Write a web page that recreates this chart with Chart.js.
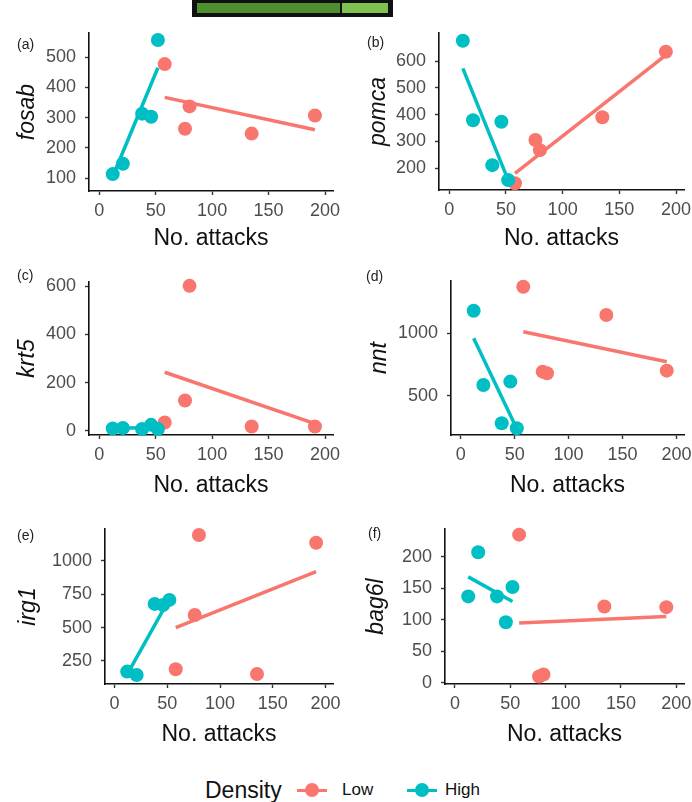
<!DOCTYPE html>
<html>
<head>
<meta charset="utf-8">
<title>Gene expression vs. attacks</title>
<script src="https://cdn.jsdelivr.net/npm/chart.js@4.4.0/dist/chart.umd.min.js"></script>
<style>
  body { margin: 0; background: #fff; width: 692px; height: 802px; position: relative; overflow: hidden;
         font-family: "Liberation Sans", Arial, sans-serif; }
  canvas { position: absolute; }
  .tag { position: absolute; font-size: 14px; line-height: 14px; color: #222; }
  .bar { position: absolute; left: 192px; top: 0; width: 201px; height: 17px; background: #111; }
  .bar div { position: absolute; top: 3px; height: 10px; }
  .legend { position: absolute; top: 776px; left: 205px; height: 28px; }
  .legend span { position: absolute; white-space: nowrap; }
  .key-line { position: absolute; width: 30px; height: 3px; top: 13px; }
  .key-dot { position: absolute; width: 14px; height: 14px; border-radius: 50%; top: 7px; }
</style>
</head>
<body>
<div class="bar"><div style="left:5px;width:143px;background:#4e8f2e"></div><div style="left:150px;width:46px;background:#7fc24f"></div></div>

<canvas id="pa" width="346" height="240" style="left:0;top:20px"></canvas>
<canvas id="pb" width="346" height="240" style="left:346px;top:20px"></canvas>
<canvas id="pc" width="346" height="250" style="left:0;top:255px"></canvas>
<canvas id="pd" width="346" height="250" style="left:346px;top:255px"></canvas>
<canvas id="pe" width="346" height="250" style="left:0;top:505px"></canvas>
<canvas id="pf" width="346" height="250" style="left:346px;top:505px"></canvas>

<div class="tag" style="left:17px;top:37px">(a)</div>
<div class="tag" style="left:367px;top:35px">(b)</div>
<div class="tag" style="left:17px;top:268px">(c)</div>
<div class="tag" style="left:366px;top:269px">(d)</div>
<div class="tag" style="left:17px;top:528px">(e)</div>
<div class="tag" style="left:368px;top:526px">(f)</div>

<div class="legend">
  <span style="left:0;top:0;font-size:23px;line-height:28px;color:#111">Density</span>
  <div class="key-line" style="left:92px;background:#F8766D"></div>
  <div class="key-dot" style="left:100px;background:#F8766D"></div>
  <span style="left:137px;top:4px;font-size:17px;line-height:20px;color:#111">Low</span>
  <div class="key-line" style="left:202px;background:#00BFC4"></div>
  <div class="key-dot" style="left:210px;background:#00BFC4"></div>
  <span style="left:240px;top:4px;font-size:17px;line-height:20px;color:#111">High</span>
</div>

<script>
// shared x values (number of attacks) and ticks
const xTicks = [0, 50, 100, 150, 200];
const attacksLow = [58, 76, 80, 135, 191];
const attacksHigh = [12, 21, 38, 46, 52];
const fitXLow = [58, 191];
const fitXHigh = [12, 52];

// (a) fosab
const fosabLow = [477, 263, 337, 247, 307];
const fosabHigh = [113, 147, 313, 303, 557];
const fosabFitLow = [367, 260];
const fosabFitHigh = [105, 465];
const fosabTicks = [100, 200, 300, 400, 500];

// (b) pomca
const pomcaLow = [143, 305, 267, 390, 635];
const pomcaHigh = [676, 379, 211, 373, 155];
const pomcaFitLow = [180, 622];
const pomcaFitHigh = [573, 155];
const pomcaTicks = [200, 300, 400, 500, 600];

// (c) krt5
const krt5Low = [35, 126, 601, 18, 18];
const krt5High = [10, 12, 8, 25, 8];
const krt5FitLow = [243, 30];
const krt5FitHigh = [10, 15];
const krt5Ticks = [0, 200, 400, 600];

// (d) nnt
const nntLow = [1367, 693, 680, 1143, 701];
const nntHigh = [1177, 587, 283, 614, 244];
const nntFitLow = [1010, 772];
const nntFitHigh = [958, 240];
const nntTicks = [500, 1000];

// (e) irg1
const irg1Low = [188, 595, 1195, 152, 1137];
const irg1High = [170, 145, 678, 670, 708];
const irg1FitLow = [500, 920];
const irg1FitHigh = [150, 715];
const irg1Ticks = [250, 500, 750, 1000];

// (f) bag6l
const bag6lLow = [235, 10, 13, 121, 120];
const bag6lHigh = [137, 207, 137, 96, 152];
const bag6lFitLow = [95, 105];
const bag6lFitHigh = [168, 129];
const bag6lTicks = [0, 50, 100, 150, 200];

const RED = "#F8766D";
const TEAL = "#00BFC4";
const FONT = "'Liberation Sans', Arial, sans-serif";

function pts(xs, ys) {
  return xs.map((x, i) => ({ x, y: ys[i] }));
}

function makePanel(id, gene, low, high, fitLow, fitHigh, ticks, yMin, yMax, box) {
  const ctx = document.getElementById(id);
  new Chart(ctx, {
    type: "scatter",
    data: {
      datasets: [
        { data: pts(fitXHigh, fitHigh), showLine: true, borderColor: TEAL, borderWidth: 3.5,
          pointRadius: 0, order: 0, clip: false },
        { data: pts(fitXLow, fitLow), showLine: true, borderColor: RED, borderWidth: 3.5,
          pointRadius: 0, order: 0, clip: false },
        { data: pts(attacksHigh, high), backgroundColor: TEAL, borderWidth: 0,
          pointRadius: 7, order: 1, clip: false },
        { data: pts(attacksLow, low), backgroundColor: RED, borderWidth: 0,
          pointRadius: 7, order: 2, clip: false },
      ],
    },
    options: {
      responsive: false,
      animation: false,
      devicePixelRatio: 1,
      layout: { padding: { left: 0, top: box.top, right: box.right, bottom: 0 } },
      plugins: { legend: { display: false }, tooltip: { enabled: false } },
      scales: {
        x: {
          type: "linear",
          min: -9,
          max: 207,
          afterBuildTicks: (s) => { s.ticks = xTicks.map((v) => ({ value: v })); },
          afterFit: (s) => { s.height = box.xh; s.paddingLeft = 0; s.paddingRight = 0; },
          border: { display: true, color: "#111", width: 1.6 },
          grid: { drawOnChartArea: false, drawTicks: true, tickLength: 4, tickColor: "#333", tickWidth: 1.4 },
          ticks: { color: "#4D4D4D", font: { family: FONT, size: 18 }, padding: 5,
                   callback: (v) => String(v) },
          title: { display: true, text: "No. attacks", color: "#111",
                   font: { family: FONT, size: 23, lineHeight: 1 }, padding: { top: 0, bottom: box.tb } },
        },
        y: {
          type: "linear",
          min: yMin,
          max: yMax,
          afterBuildTicks: (s) => { s.ticks = ticks.map((v) => ({ value: v })); },
          afterFit: (s) => { s.width = box.yw; s.paddingTop = 0; s.paddingBottom = 0; },
          border: { display: true, color: "#111", width: 1.6 },
          grid: { drawOnChartArea: false, drawTicks: true, tickLength: 4, tickColor: "#333", tickWidth: 1.4 },
          ticks: { color: "#4D4D4D", font: { family: FONT, size: 18 }, padding: 9,
                   callback: (v) => String(v) },
          title: { display: true, text: gene, color: "#111",
                   font: { family: FONT, size: 23, style: "italic", lineHeight: 1 },
                   padding: { top: box.tl, bottom: 0 } },
        },
      },
    },
  });
}

makePanel("pa", "fosab", fosabLow, fosabHigh, fosabFitLow, fosabFitHigh, fosabTicks, 57, 580,
  { top: 13, right: 13, yw: 89, xh: 69, tb: 9.5, tl: 16.5 });
makePanel("pb", "pomca", pomcaLow, pomcaHigh, pomcaFitLow, pomcaFitHigh, pomcaTicks, 118, 705,
  { top: 13, right: 8, yw: 93, xh: 70, tb: 9.5, tl: 21 });
makePanel("pc", "krt5", krt5Low, krt5High, krt5FitLow, krt5FitHigh, krt5Ticks, -17, 617,
  { top: 27, right: 13, yw: 89, xh: 70, tb: 8, tl: 16.5 });
makePanel("pd", "nnt", nntLow, nntHigh, nntFitLow, nntFitHigh, nntTicks, 190, 1413,
  { top: 26, right: 8, yw: 105, xh: 70, tb: 8, tl: 22 });
makePanel("pe", "irg1", irg1Low, irg1High, irg1FitLow, irg1FitHigh, irg1Ticks, 77, 1240,
  { top: 24, right: 13, yw: 105, xh: 71, tb: 8.5, tl: 17 });
makePanel("pf", "bag6l", bag6lLow, bag6lHigh, bag6lFitLow, bag6lFitHigh, bag6lTicks, -2, 244,
  { top: 24, right: 8, yw: 99, xh: 71, tb: 8.5, tl: 19 });
</script>
</body>
</html>
